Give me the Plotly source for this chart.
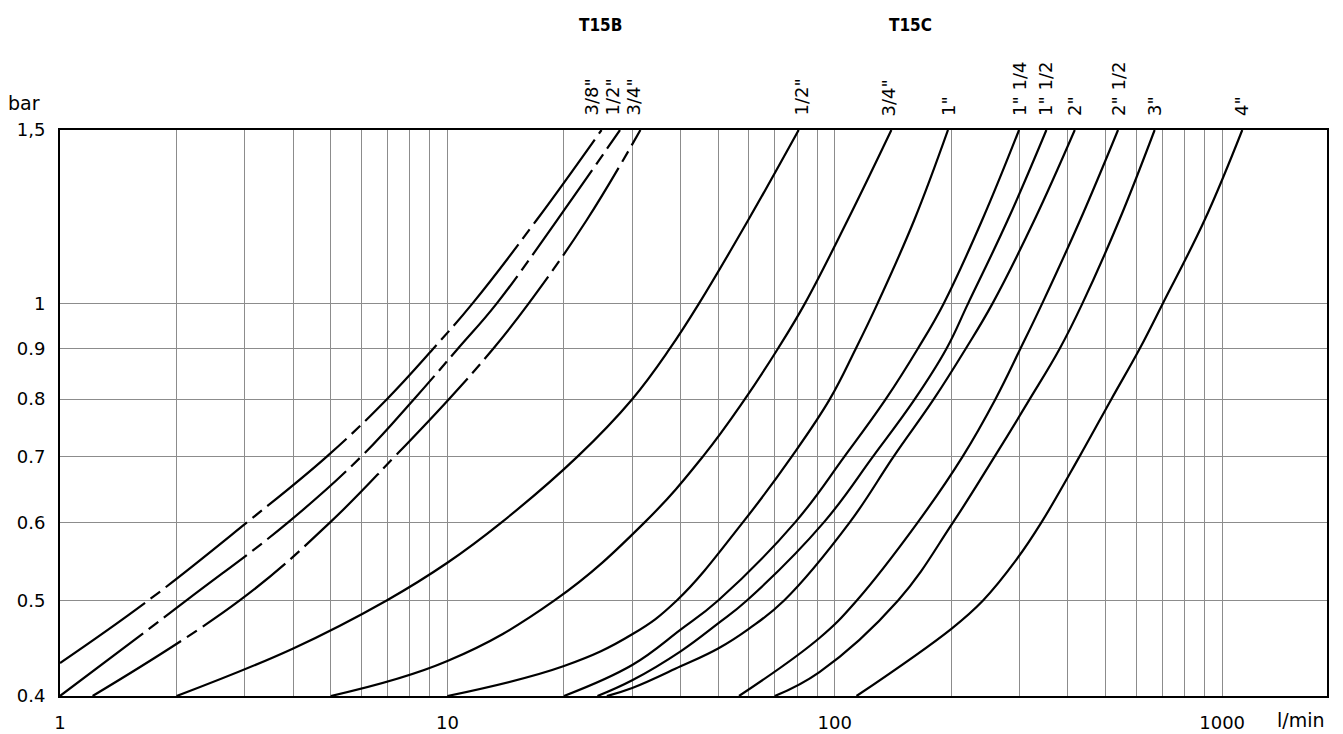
import math
import plotly.graph_objects as go

# ---------------- data (flow l/min, pressure bar) ----------------
series_names = ['T15B 3/8"', 'T15B 1/2"', 'T15B 3/4"',
                'T15C 1/2"', 'T15C 3/4"', 'T15C 1"', 'T15C 1" 1/4', 'T15C 1" 1/2',
                'T15C 2"', 'T15C 2" 1/2', 'T15C 3"', 'T15C 4"']

b38_q = [1, 1.69, 3.04, 4.89, 6.98, 9.19, 11.6, 17.0, 25.0]
b38_p = [0.432, 0.5, 0.6, 0.7, 0.8, 0.9, 1.0, 1.2156, 1.5]

b12_q = [1, 2.12, 3.88, 6.0, 8.2, 10.64, 13.4, 19.2, 27.9]
b12_p = [0.4, 0.5, 0.6, 0.7, 0.8, 0.9, 1.0, 1.2156, 1.5]

b34_q = [1.214, 2.91, 4.98, 7.32, 10.09, 13.13, 16.2, 22.9, 31.5]
b34_p = [0.4, 0.5, 0.6, 0.7, 0.8, 0.9, 1.0, 1.2156, 1.5]

c12_q = [2.0, 4.0, 6.97, 10, 13.8, 21.7, 30.0, 37.5, 44.6, 59.8, 80.7]
c12_p = [0.4, 0.447, 0.5, 0.546, 0.6, 0.7, 0.8, 0.9, 1.0, 1.2156, 1.5]

c34_q = [5.0, 10, 18.9, 32.3, 45.7, 58.6, 71.3, 83.7, 108.0, 140]
c34_p = [0.4, 0.434, 0.5, 0.6, 0.7, 0.8, 0.9, 1.0, 1.2156, 1.5]

c1_q = [10, 20, 30, 39.1, 57.9, 77.5, 97.1, 113.3, 128.9, 160.4, 196]
c1_p = [0.4, 0.429, 0.462, 0.5, 0.6, 0.7, 0.8, 0.9, 1.0, 1.2156, 1.5]

c114_q = [20, 30, 40, 50, 79, 106, 135.4, 163.8, 191, 240.2, 299]
c114_p = [0.4, 0.43, 0.467, 0.5, 0.6, 0.7, 0.8, 0.9, 1.0, 1.2156, 1.5]

c112_q = [24.4, 30, 40, 50, 59.3, 93.7, 125.6, 160.9, 194.2, 220.8, 279.6, 351.8]
c112_p = [0.4, 0.415, 0.444, 0.474, 0.5, 0.6, 0.7, 0.8, 0.9, 1.0, 1.2156, 1.5]

c2_q = [25.8, 30, 40, 50, 60, 74, 109.3, 142.0, 180.1, 217.8, 255.3, 327.6, 416.4]
c2_p = [0.4, 0.4075, 0.4287, 0.447, 0.468, 0.5, 0.6, 0.7, 0.8, 0.9, 1.0, 1.2156, 1.5]

c212_q = [56.6, 91.3, 114, 163.8, 214, 259.8, 301.4, 343, 430.1, 538.5]
c212_p = [0.4, 0.458, 0.5, 0.6, 0.7, 0.8, 0.9, 1.0, 1.2156, 1.5]

c3_q = [70, 91.3, 145.7, 202, 258.8, 318.6, 380.7, 435.6, 542.7, 669.4]
c3_p = [0.4, 0.423, 0.5, 0.6, 0.7, 0.8, 0.9, 1.0, 1.2156, 1.5]

c4_q = [113.8, 200, 241.4, 294.4, 341.6, 428.6, 517.6, 612.4, 702.4, 901, 1127]
c4_p = [0.4, 0.468, 0.5, 0.55, 0.6, 0.7, 0.8, 0.9, 1.0, 1.2156, 1.5]

series_q = [b38_q, b12_q, b34_q, c12_q, c34_q, c1_q, c114_q, c112_q, c2_q, c212_q, c3_q, c4_q]
series_p = [b38_p, b12_p, b34_p, c12_p, c34_p, c1_p, c114_p, c112_p, c2_p, c212_p, c3_p, c4_p]

top_labels = ['3/8"', '1/2"', '3/4"', '1/2"', '3/4"', '1"', '1" 1/4', '1" 1/2',
              '2"', '2" 1/2', '3"', '4"']
top_label_px = [591, 612, 633, 801, 888, 948, 1019, 1045, 1074, 1118, 1154, 1241]

group_labels = ['T15B', 'T15C']
group_label_px = [600, 910]

x_tick_vals = [1, 2, 3, 4, 5, 6, 7, 8, 9, 10, 20, 30, 40, 50, 60, 70, 80, 90,
               100, 200, 300, 400, 500, 600, 700, 800, 900, 1000]
x_tick_text = ['1' if v == 1 else '10' if v == 10 else '100' if v == 100
               else '1000' if v == 1000 else '' for v in x_tick_vals]
y_tick_vals = [0.4, 0.5, 0.6, 0.7, 0.8, 0.9, 1.0, 1.5]
y_tick_text = ['0.4', '0.5', '0.6', '0.7', '0.8', '0.9', '1', '1,5']

# ---------------- figure ----------------
# the page body has an 8px margin; the plot area should sit at screen x 60..1327, y 130..696
OFF = 8
PL, PT, PW, PH = 60, 130, 1267, 566
W, H = 1343 - OFF, 734 - OFF
L, T = PL - OFF, PT - OFF
R = W - L - PW
B = H - T - PH

FONT = "DejaVu Sans"
BOLD_FONT = "Liberation Sans Narrow, DejaVu Sans Condensed, DejaVu Sans"
dash_b = "104px,7px,12px,7px"

fig = go.Figure()
for i, (q, p) in enumerate(zip(series_q, series_p)):
    fig.add_trace(go.Scatter(
        x=q, y=p, mode="lines", name=series_names[i],
        line=dict(color="black", width=2.2, shape="spline", smoothing=1.15,
                  dash=dash_b if i < 3 else "solid"),
        hoverinfo="x+y+name",
    ))

def px_x(px):
    return (px - PL) / PW

def px_y(py):
    return (PT + PH - py) / PH

annotations = []
for txt, px in zip(top_labels, top_label_px):
    annotations.append(dict(text=txt, x=px_x(px), y=px_y(118), xref="paper", yref="paper",
                            textangle=-90, xanchor="center", yanchor="bottom",
                            showarrow=False, font=dict(family=FONT, size=18, color="black")))
for txt, px in zip(group_labels, group_label_px):
    annotations.append(dict(text="<b>" + txt + "</b>", x=px_x(px), y=px_y(25), xref="paper",
                            yref="paper", xanchor="center", yanchor="middle", showarrow=False,
                            font=dict(family=BOLD_FONT, size=17, color="black")))
annotations.append(dict(text="bar", x=px_x(24), y=px_y(103), xref="paper", yref="paper",
                        xanchor="center", yanchor="middle", showarrow=False,
                        font=dict(family=FONT, size=19, color="black")))
annotations.append(dict(text="l/min", x=px_x(1301), y=px_y(720), xref="paper", yref="paper",
                        xanchor="center", yanchor="middle", showarrow=False,
                        font=dict(family=FONT, size=19, color="black")))

fig.update_layout(
    width=W, height=H,
    margin=dict(l=L, r=R, t=T, b=B, pad=0),
    paper_bgcolor="white", plot_bgcolor="white",
    showlegend=False,
    font=dict(family=FONT, size=18, color="black"),
    annotations=annotations,
)
fig.update_xaxes(
    type="log", range=[0, math.log10(1865)], automargin=False,
    tickmode="array", tickvals=x_tick_vals, ticktext=x_tick_text,
    showgrid=True, gridcolor="#8c8c8c", gridwidth=1,
    showline=True, linecolor="black", linewidth=2, mirror=True,
    ticks="", ticklabelstandoff=9, zeroline=False,
    tickfont=dict(family=FONT, size=18, color="black"),
)
fig.update_yaxes(
    type="log", range=[math.log10(0.4), math.log10(1.5)], automargin=False,
    tickmode="array", tickvals=y_tick_vals, ticktext=y_tick_text,
    showgrid=True, gridcolor="#8c8c8c", gridwidth=1,
    showline=True, linecolor="black", linewidth=2, mirror=True,
    ticks="", ticklabelstandoff=9, zeroline=False,
    tickfont=dict(family=FONT, size=18, color="black"),
)

fig.write_html("out.html")
